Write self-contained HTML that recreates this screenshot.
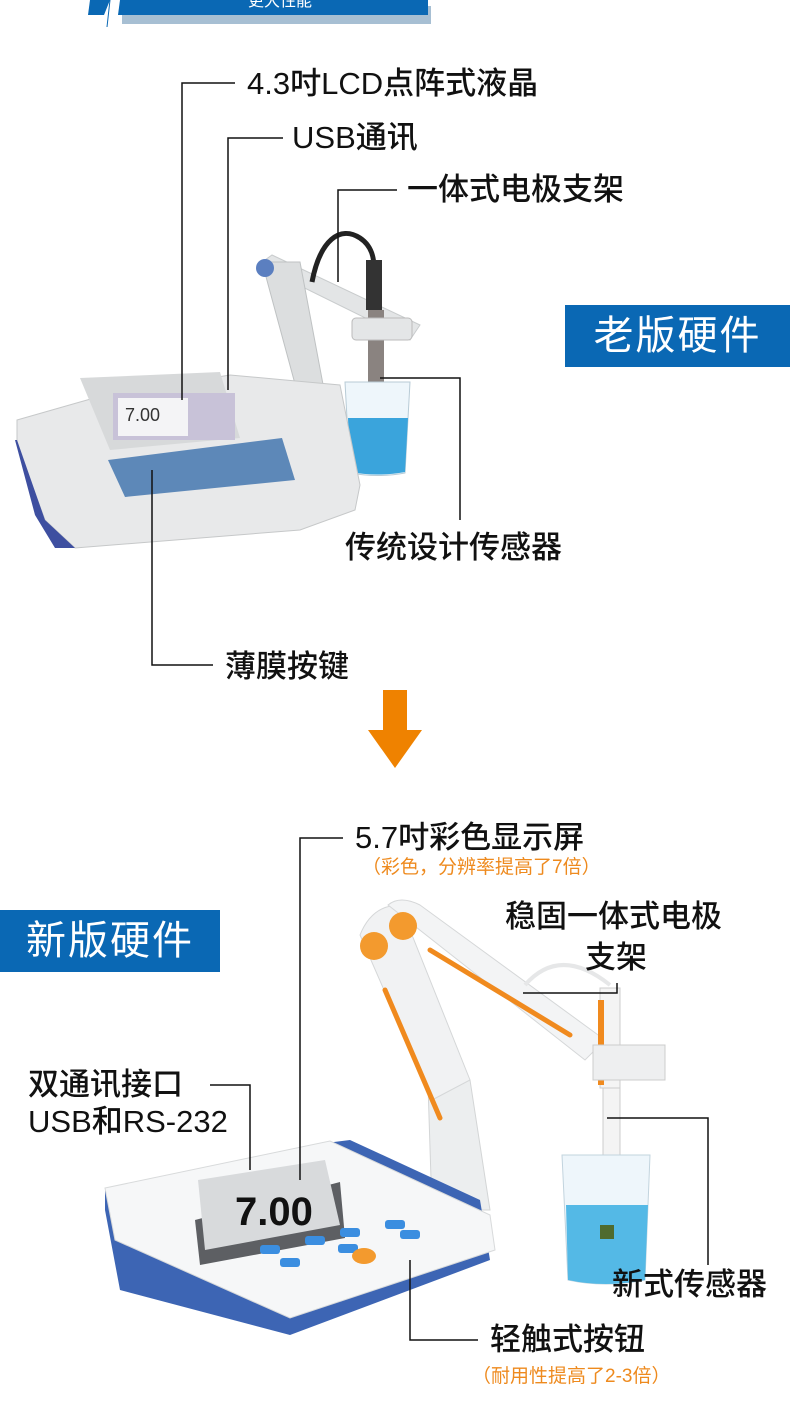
<!DOCTYPE html>
<html><head><meta charset="utf-8"><style>
html,body{margin:0;padding:0;background:#fff}
body{width:790px;height:1418px;position:relative;overflow:hidden;font-family:"Liberation Sans","Noto Sans CJK SC",sans-serif}
.t{position:absolute;font-size:31px;color:#111;font-weight:500;white-space:nowrap;line-height:1}
.o{position:absolute;font-size:19px;color:#ee8a1e;white-space:nowrap;line-height:1}
.box{position:absolute;background:#0a68b4;color:#fff;font-size:40px;text-align:center;line-height:62px;letter-spacing:2px}
svg{position:absolute;left:0;top:0}
</style></head><body>
<svg width="790" height="1418" viewBox="0 0 790 1418">
<rect x="122" y="6" width="309" height="18" fill="#a7bfd3"/>
<polygon points="120,0 428,0 428,15 118,15" fill="#0a68b4"/>
<polygon points="90,0 110,0 104,15 88,15" fill="#0a68b4"/>
<line x1="110" y1="0" x2="107" y2="27" stroke="#0a68b4" stroke-width="1"/>
<text x="280" y="6" fill="#fff" font-size="16" text-anchor="middle" font-family="Noto Sans CJK SC">更大性能</text>

<g>
<path d="M258,265 L272,255 L420,325 L410,340 Z" fill="#e3e5e6" stroke="#c9cccd"/>
<path d="M262,262 L300,262 L325,395 L298,395 Z" fill="#dcdedf" stroke="#bfc2c3"/>
<circle cx="265" cy="268" r="9" fill="#5b7fc0"/>
<path d="M312,282 C320,240 340,225 360,238 C372,246 374,258 374,268" fill="none" stroke="#222" stroke-width="5"/>
<rect x="366" y="260" width="16" height="50" fill="#333"/>
<rect x="368" y="310" width="16" height="120" fill="#8a8380"/>
<rect x="352" y="318" width="60" height="22" rx="4" fill="#e4e6e7" stroke="#bbb"/>
<path d="M345,382 L410,382 L405,473 Q378,478 350,473 Z" fill="#eef6fb" stroke="#b8cbd6"/>
<path d="M348,418 L408,418 L405,472 Q378,477 350,472 Z" fill="#3aa4dc"/>
<path d="M17,420 L80,402 L105,395 L230,375 L340,385 L360,485 L355,510 L300,530 L75,548 L45,520 L17,445 Z" fill="#e8e9ea" stroke="#c6c8c9"/>
<path d="M17,440 L45,520 L75,548 L55,548 L35,515 L15,440 Z" fill="#3e4fa0"/>
<path d="M80,378 L220,372 L240,438 L110,450 Z" fill="#d7d9da"/>
<rect x="113" y="393" width="122" height="47" fill="#c8c2d8"/>
<rect x="118" y="398" width="70" height="38" fill="#f4f4f6"/>
<text x="125" y="421" font-size="18" fill="#333" font-family="Liberation Sans">7.00</text>
<path d="M108,460 L282,438 L295,480 L125,497 Z" fill="#5d88b8"/>
</g>

<g stroke="#111" stroke-width="1.5" fill="none">
<polyline points="235,83 182,83 182,400"/>
<polyline points="283,138 228,138 228,390"/>
<polyline points="397,190 338,190 338,282"/>
<polyline points="380,378 460,378 460,520"/>
<polyline points="152,470 152,665 213,665"/>
</g>

<rect x="383" y="690" width="24" height="42" fill="#ef8200"/>
<polygon points="368,730 422,730 395,768" fill="#ef8200"/>

<g>
<path d="M428,1085 L470,1080 L490,1210 L432,1210 Z" fill="#eceeef" stroke="#d3d5d6"/>
<path d="M360,935 Q372,905 400,905 L470,1080 L432,1100 Z" fill="#f1f2f3" stroke="#d5d7d8"/>
<path d="M388,905 Q400,895 420,905 L605,1040 L585,1060 Z" fill="#f3f4f5" stroke="#d5d7d8"/>
<line x1="385" y1="990" x2="440" y2="1118" stroke="#f08a1e" stroke-width="5" stroke-linecap="round"/>
<line x1="430" y1="950" x2="570" y2="1035" stroke="#f08a1e" stroke-width="5" stroke-linecap="round"/>
<circle cx="403" cy="926" r="14" fill="#f39a2e"/>
<circle cx="374" cy="946" r="14" fill="#f39a2e"/>
<path d="M525,985 Q560,945 610,985" fill="none" stroke="#e6e7e8" stroke-width="4"/>
<rect x="600" y="988" width="20" height="100" fill="#f4f4f4" stroke="#ccc"/>
<rect x="598" y="1000" width="6" height="85" fill="#f08a1e"/>
<rect x="593" y="1045" width="72" height="35" fill="#eeeff0" stroke="#ccc"/>
<rect x="603" y="1088" width="17" height="170" fill="#f4f4f4" stroke="#ccc"/>
<path d="M562,1155 L650,1155 L645,1280 Q605,1288 568,1280 Z" fill="#eef6fb" stroke="#c2d4de"/>
<path d="M566,1205 L648,1205 L645,1280 Q605,1288 568,1280 Z" fill="#54b9e6"/>
<rect x="600" y="1225" width="14" height="14" fill="#4f6b2e"/>
<path d="M105,1190 L310,1145 L350,1140 L480,1200 L490,1260 L290,1335 L120,1290 L105,1210 Z" fill="#3d65b4"/>
<path d="M105,1188 L330,1141 L490,1215 L495,1250 L290,1318 L115,1240 Z" fill="#f6f7f8" stroke="#d8dadb"/>
<path d="M195,1220 L340,1182 L345,1238 L200,1265 Z" fill="#5d5f63"/>
<path d="M198,1180 L325,1160 L340,1225 L205,1250 Z" fill="#d8dadc"/>
<text x="235" y="1225" font-size="40" fill="#111" font-family="Liberation Sans" font-weight="bold">7.00</text>
<g fill="#3b8ee0">
<rect x="260" y="1245" width="20" height="9" rx="3"/><rect x="280" y="1258" width="20" height="9" rx="3"/>
<rect x="305" y="1236" width="20" height="9" rx="3"/><rect x="340" y="1228" width="20" height="9" rx="3"/>
<rect x="338" y="1244" width="20" height="9" rx="3"/><rect x="385" y="1220" width="20" height="9" rx="3"/>
<rect x="400" y="1230" width="20" height="9" rx="3"/>
</g>
<ellipse cx="364" cy="1256" rx="12" ry="8" fill="#f39a2e"/>
</g>

<g stroke="#111" stroke-width="1.5" fill="none">
<polyline points="343,838 300,838 300,1180"/>
<polyline points="523,993 617,993 617,983"/>
<polyline points="210,1085 250,1085 250,1170"/>
<polyline points="607,1118 708,1118 708,1265"/>
<polyline points="410,1260 410,1340 478,1340"/>
</g>
</svg>

<div class="t" style="left:247px;top:68px">4.3吋LCD点阵式液晶</div>
<div class="t" style="left:292px;top:122px">USB通讯</div>
<div class="t" style="left:407px;top:174px">一体式电极支架</div>
<div class="box" style="left:565px;top:305px;width:225px;height:62px">老版硬件</div>
<div class="t" style="left:345px;top:532px">传统设计传感器</div>
<div class="t" style="left:225px;top:651px">薄膜按键</div>

<div class="t" style="left:355px;top:822px">5.7吋彩色显示屏</div>
<div class="o" style="left:362px;top:858px">（彩色，分辨率提高了7倍）</div>
<div class="box" style="left:0;top:910px;width:220px;height:62px">新版硬件</div>
<div class="t" style="left:505px;top:901px">稳固一体式电极</div>
<div class="t" style="left:585px;top:942px">支架</div>
<div class="t" style="left:28px;top:1069px">双通讯接口</div>
<div class="t" style="left:28px;top:1106px">USB和RS-232</div>
<div class="t" style="left:612px;top:1269px">新式传感器</div>
<div class="t" style="left:490px;top:1324px">轻触式按钮</div>
<div class="o" style="left:472px;top:1367px">（耐用性提高了2-3倍）</div>
</body></html>
